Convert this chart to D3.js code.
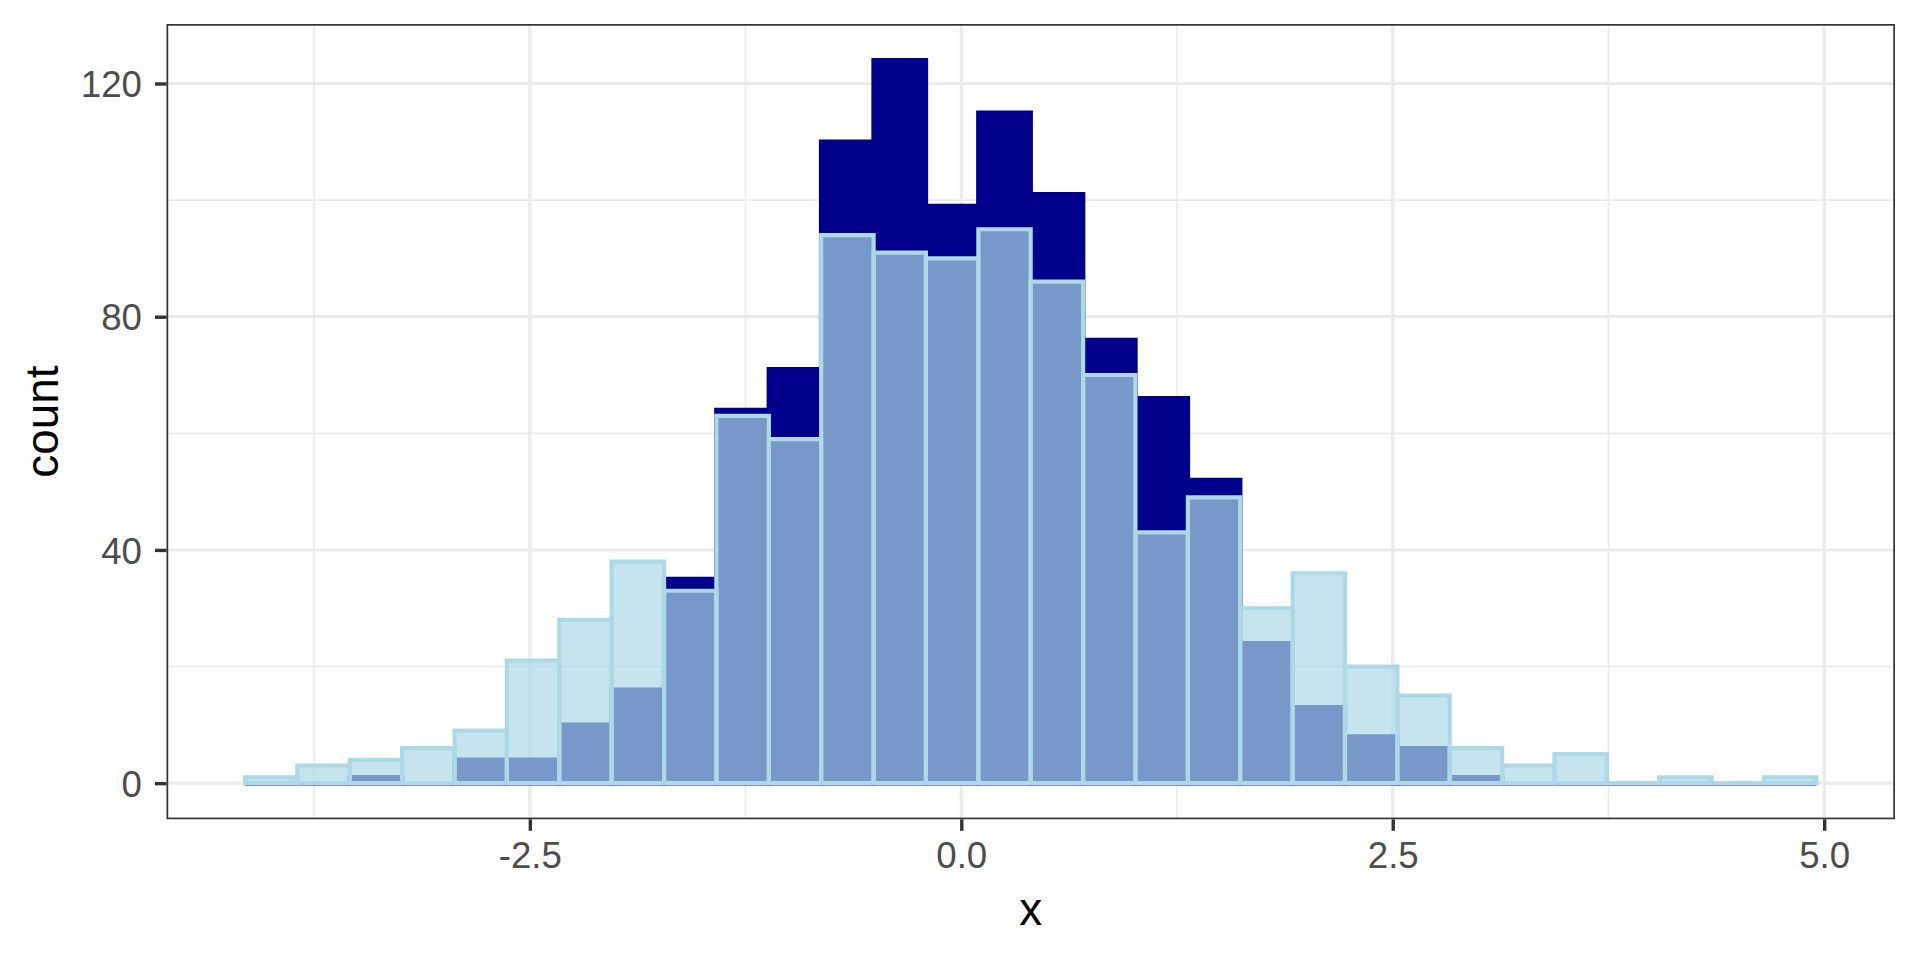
<!DOCTYPE html>
<html>
<head>
<meta charset="utf-8">
<script src="https://cdn.jsdelivr.net/npm/d3@7"></script>
<style>
  html, body { margin: 0; padding: 0; background: #ffffff; }
  svg { display: block; }
</style>
</head>
<body>
<svg id="chart" width="1920" height="960"></svg>
<script>
// ---------------- data ----------------
const binEdges = [-4.150, -3.847, -3.543, -3.240, -2.936, -2.633, -2.329, -2.026, -1.722, -1.419,
                  -1.115, -0.812, -0.508, -0.205, 0.099, 0.402, 0.706, 1.009, 1.313, 1.616,
                  1.920, 2.223, 2.527, 2.830, 3.134, 3.437, 3.741, 4.044, 4.348, 4.651, 4.955];
const darkCounts  = [0, 0, 1, 0, 4, 4, 10, 16, 35, 64, 71, 110, 124, 99, 115, 101, 76, 66, 52, 24, 13, 8, 6, 1, 0, 0, 0, 0, 0, 0];
const lightCounts = [1, 3, 4, 6, 9, 21, 28, 38, 33, 63, 59, 94, 91, 90, 95, 86, 70, 43, 49, 30, 36, 20, 15, 6, 3, 5, 0, 1, 0, 1];
const xTicks = [-2.5, 0, 2.5, 5];
const xTickLabels = ["-2.5", "0.0", "2.5", "5.0"];
const xMinorTicks = [-3.75, -1.25, 1.25, 3.75];
const yTicks = [0, 40, 80, 120];
const yTickLabels = ["0", "40", "80", "120"];
const yMinorTicks = [20, 60, 100];
const xTitle = "x";
const yTitle = "count";

// ---------------- layout ----------------
const panel = { left: 166.5, right: 1895, top: 24, bottom: 819.3 };
const pw = panel.right - panel.left, ph = panel.bottom - panel.top;
const FONT = "'Liberation Sans', Arial, Helvetica, sans-serif";

const svg = d3.select("#chart");

const toBins = counts => counts.map((c, i) => ({ x0: binEdges[i], x1: binEdges[i + 1], count: c }));
const darkBins = toBins(darkCounts);
const lightBins = toBins(lightCounts);

// scales with ggplot-like 5% expansion
const xLo = d3.min(binEdges), xHi = d3.max(binEdges), xSpan = xHi - xLo;
const x = d3.scaleLinear()
  .domain([xLo - 0.05 * xSpan, xHi + 0.05 * xSpan])
  .range([panel.left, panel.right]);
const yMax = d3.max(darkCounts.concat(lightCounts));
const y = d3.scaleLinear()
  .domain([-0.05 * yMax, 1.05 * yMax])
  .range([panel.bottom, panel.top]);

const barPath = d => `M${x(d.x0)},${y(0)}V${y(d.count)}H${x(d.x1)}V${y(0)}Z`;

// panel background
svg.append("rect").attr("x", panel.left).attr("y", panel.top)
  .attr("width", pw).attr("height", ph).attr("fill", "#ffffff");

svg.append("defs").append("clipPath").attr("id", "panelClip")
  .append("rect").attr("x", panel.left).attr("y", panel.top)
  .attr("width", pw).attr("height", ph);

const g = svg.append("g").attr("clip-path", "url(#panelClip)");

// grid: minor then major
const grid = g.append("g");
grid.selectAll(".vminor").data(xMinorTicks).join("line")
  .attr("x1", d => x(d)).attr("x2", d => x(d))
  .attr("y1", panel.top).attr("y2", panel.bottom)
  .attr("stroke", "#EBEBEB").attr("stroke-width", 1.7);
grid.selectAll(".hminor").data(yMinorTicks).join("line")
  .attr("y1", d => y(d)).attr("y2", d => y(d))
  .attr("x1", panel.left).attr("x2", panel.right)
  .attr("stroke", "#EBEBEB").attr("stroke-width", 1.7);
grid.selectAll(".vmajor").data(xTicks).join("line")
  .attr("x1", d => x(d)).attr("x2", d => x(d))
  .attr("y1", panel.top).attr("y2", panel.bottom)
  .attr("stroke", "#EBEBEB").attr("stroke-width", 3.3);
grid.selectAll(".hmajor").data(yTicks).join("line")
  .attr("y1", d => y(d)).attr("y2", d => y(d))
  .attr("x1", panel.left).attr("x2", panel.right)
  .attr("stroke", "#EBEBEB").attr("stroke-width", 3.3);

// dark histogram (fill and outline both darkblue)
g.append("g").selectAll("path").data(darkBins).join("path")
  .attr("d", barPath)
  .attr("fill", "#00008B")
  .attr("stroke", "#00008B").attr("stroke-width", 4.5)
  .attr("stroke-linejoin", "miter");

// light histogram (alpha fill + outline); paths so zero-height bins still show their outline
g.append("g").selectAll("path").data(lightBins).join("path")
  .attr("d", barPath)
  .attr("fill", "#ADD8E6").attr("fill-opacity", 0.7)
  .attr("stroke", "#ADD8E6").attr("stroke-width", 4.2)
  .attr("stroke-linejoin", "miter");

// panel border (clipped, like ggplot)
g.append("rect").attr("x", panel.left).attr("y", panel.top)
  .attr("width", pw).attr("height", ph)
  .attr("fill", "none").attr("stroke", "#333333").attr("stroke-width", 3.4);

// axes
const xAxis = d3.axisBottom(x).tickValues(xTicks)
  .tickFormat((d, i) => xTickLabels[i]).tickSize(11.5).tickSizeOuter(0).tickPadding(11.2);
const gx = svg.append("g").attr("transform", `translate(0,${panel.bottom})`).call(xAxis);
gx.select(".domain").remove();
gx.selectAll(".tick line").attr("stroke", "#333333").attr("stroke-width", 3.4);
gx.selectAll(".tick text").attr("fill", "#4D4D4D")
  .style("font-family", FONT).style("font-size", "36.67px");

const yAxis = d3.axisLeft(y).tickValues(yTicks)
  .tickFormat((d, i) => yTickLabels[i]).tickSize(11.5).tickSizeOuter(0).tickPadding(13);
const gy = svg.append("g").attr("transform", `translate(${panel.left},0)`).call(yAxis);
gy.select(".domain").remove();
gy.selectAll(".tick line").attr("stroke", "#333333").attr("stroke-width", 3.4);
gy.selectAll(".tick text").attr("fill", "#4D4D4D").attr("dy", "0.36em")
  .style("font-family", FONT).style("font-size", "36.67px");

// titles
svg.append("text")
  .attr("x", (panel.left + panel.right) / 2).attr("y", 925)
  .attr("text-anchor", "middle").attr("fill", "#000000")
  .style("font-family", FONT).style("font-size", "45.83px")
  .text(xTitle);
svg.append("text")
  .attr("transform", `translate(58,${(panel.top + panel.bottom) / 2}) rotate(-90)`)
  .attr("text-anchor", "middle").attr("fill", "#000000")
  .style("font-family", FONT).style("font-size", "45.83px")
  .text(yTitle);
</script>
</body>
</html>
